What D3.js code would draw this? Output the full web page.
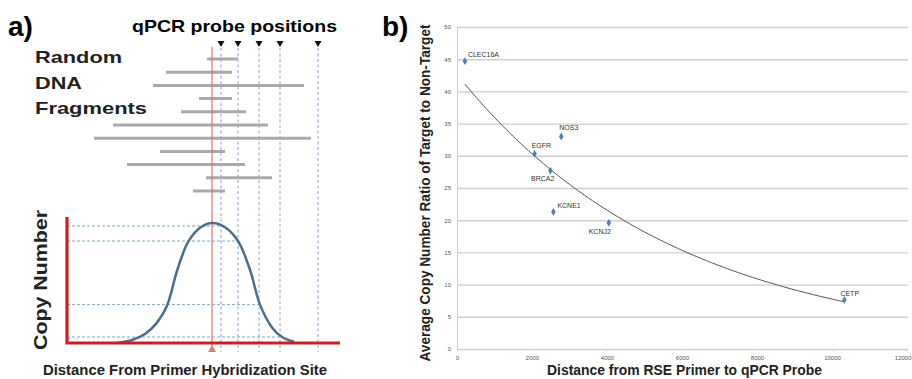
<!DOCTYPE html>
<html>
<head>
<meta charset="utf-8">
<script src="https://cdn.jsdelivr.net/npm/d3@7"></script>
<style>
  body { margin: 0; background: #fff; }
  svg { display: block; font-family: "Liberation Sans", Arial, Helvetica, sans-serif; }
</style>
</head>
<body>
<div id="chart"></div>
<script>
// ---- panel a: schematic (distance relative to primer site, copy number as fraction of peak)
const fragStart = [-5, -46, -59, -13, -31, -99, -118, -52, -85, -6, -19];
const fragEnd   = [26, 20, 92, 20, 34, 56, 99, 13, 33, 60, 13];
const probePos  = [9, 26, 47, 68, 106];
const probeLevel = [0.975, 0.85, 0.32, 0.05];
const curveDist = [-95, -80, -67, -55, -45, -35, -24, -12, 0, 13, 26, 38, 48, 60, 70, 82];
const curveCopy = [0, 0.025, 0.075, 0.17, 0.31, 0.6, 0.84, 0.96, 1, 0.965, 0.85, 0.61, 0.32, 0.13, 0.05, 0.01];
const fragLabels = ['Random', 'DNA', 'Fragments'];

// ---- panel b: measured ratios
const genes    = ['CLEC16A', 'NOS3', 'EGFR', 'BRCA2', 'KCNE1', 'KCNJ2', 'CETP'];
const distance = [210, 2780, 2070, 2490, 2570, 4050, 10330];
const ratio    = [44.7, 33.0, 30.3, 27.7, 21.3, 19.6, 7.6];
const yTicks = [0, 5, 10, 15, 20, 25, 30, 35, 40, 45, 50];
const xTicks = [0, 2000, 4000, 6000, 8000, 10000, 12000];

const width = 912, height = 379;
const svg = d3.select('#chart').append('svg')
    .attr('width', width)
    .attr('height', height);

svg.append('rect').attr('width', width).attr('height', height).attr('fill', '#fff');

// =================== panel a ===================
const xA = d3.scaleLinear().domain([-145, 128]).range([67, 340]);
const yA = d3.scaleLinear().domain([0, 1]).range([343, 223]);
const yFrag = d3.scalePoint().domain(d3.range(fragStart.length)).range([59, 191]);

const a = svg.append('g');

a.append('text').attr('x', 8).attr('y', 36)
    .attr('font-size', 28).attr('font-weight', 'bold').text('a)');

a.append('text').attr('x', 132).attr('y', 32)
    .attr('font-size', 17).attr('font-weight', 'bold')
    .attr('textLength', 205).attr('lengthAdjust', 'spacingAndGlyphs')
    .text('qPCR probe positions');

const labelY = [63, 89, 114], labelW = [87, 47, 112];
a.selectAll('.fraglabel')
    .data(fragLabels)
    .enter().append('text')
    .attr('class', 'fraglabel')
    .attr('x', 35)
    .attr('y', (d, i) => labelY[i])
    .attr('font-size', 16.5).attr('font-weight', 'bold').attr('fill', '#222')
    .attr('textLength', (d, i) => labelW[i]).attr('lengthAdjust', 'spacingAndGlyphs')
    .text(d => d);

// horizontal dashed levels from the axis to each probe
a.selectAll('.level')
    .data(probeLevel)
    .enter().append('line')
    .attr('class', 'level')
    .attr('x1', xA(-145)).attr('x2', (d, i) => xA(probePos[i]))
    .attr('y1', d => yA(d)).attr('y2', d => yA(d))
    .attr('stroke', '#7fa6c6').attr('stroke-width', 1)
    .attr('stroke-dasharray', '3,2');

// vertical probe lines
a.selectAll('.probe')
    .data(probePos)
    .enter().append('line')
    .attr('class', 'probe')
    .attr('x1', d => xA(d)).attr('x2', d => xA(d))
    .attr('y1', 48).attr('y2', 352)
    .attr('stroke', '#7fa6d0').attr('stroke-width', 1)
    .attr('stroke-dasharray', '3,2.5');

// probe triangles
a.selectAll('.ptri')
    .data(probePos)
    .enter().append('path')
    .attr('class', 'ptri')
    .attr('d', d => `M${xA(d) - 3.5},41 L${xA(d) + 3.5},41 L${xA(d)},47 Z`)
    .attr('fill', '#111');

// fragments
a.selectAll('.frag')
    .data(fragStart)
    .enter().append('line')
    .attr('class', 'frag')
    .attr('x1', d => xA(d)).attr('x2', (d, i) => xA(fragEnd[i]))
    .attr('y1', (d, i) => yFrag(i)).attr('y2', (d, i) => yFrag(i))
    .attr('stroke', '#a9a9a9').attr('stroke-width', 3);

// primer line
a.append('line')
    .attr('x1', xA(0)).attr('x2', xA(0))
    .attr('y1', 47).attr('y2', 346)
    .attr('stroke', '#e07070').attr('stroke-width', 1.2);
a.append('path')
    .attr('d', `M${xA(0) - 4},352 L${xA(0) + 4},352 L${xA(0)},345 Z`)
    .attr('fill', '#e07a7a');

// bell curve
const bell = d3.line()
    .x((d, i) => xA(curveDist[i]))
    .y(d => yA(d))
    .curve(d3.curveCatmullRom);
a.append('path')
    .attr('d', bell(curveCopy))
    .attr('fill', 'none')
    .attr('stroke', '#4d6d8e').attr('stroke-width', 2.5);

// red axes
a.append('path')
    .attr('d', `M${xA(-145)},217 L${xA(-145)},${yA(0)} L${xA(128)},${yA(0)}`)
    .attr('fill', 'none')
    .attr('stroke', '#cc2020').attr('stroke-width', 3.2);

a.append('text')
    .attr('transform', 'translate(47,280) rotate(-90)')
    .attr('text-anchor', 'middle')
    .attr('font-size', 19).attr('font-weight', 'bold').attr('fill', '#222')
    .attr('textLength', 140).attr('lengthAdjust', 'spacingAndGlyphs')
    .text('Copy Number');

a.append('text').attr('x', 43).attr('y', 375)
    .attr('font-size', 15.5).attr('font-weight', 'bold').attr('fill', '#222')
    .attr('textLength', 284).attr('lengthAdjust', 'spacingAndGlyphs')
    .text('Distance From Primer Hybridization Site');

// =================== panel b ===================
const xB = d3.scaleLinear().domain([0, 12000]).range([457, 907]);
const yB = d3.scaleLinear().domain([0, 50]).range([349, 27]);

const b = svg.append('g');

b.append('text').attr('x', 382).attr('y', 36)
    .attr('font-size', 28).attr('font-weight', 'bold').text('b)');

// gridlines + y axis
const yAxis = d3.axisLeft(yB).tickValues(yTicks).tickSize(-(xB(12000) - xB(0)) - 1).tickPadding(6);
const gy = b.append('g')
    .attr('transform', `translate(${xB(0)},0)`)
    .call(yAxis);
gy.select('.domain').attr('stroke', '#cfcfcf');
gy.selectAll('.tick line').attr('stroke', '#cfcfcf').attr('stroke-width', 1.4);
gy.selectAll('.tick text').attr('font-size', 6).attr('fill', '#555')
    .attr('font-family', '"Liberation Sans", Arial, sans-serif');

const xAxis = d3.axisBottom(xB).tickValues(xTicks).tickFormat(d3.format('d')).tickSize(2).tickPadding(5);
const gx = b.append('g')
    .attr('transform', `translate(0,${yB(0)})`)
    .call(xAxis);
gx.select('.domain').remove();
gx.selectAll('.tick line').attr('stroke', '#cfcfcf');
gx.selectAll('.tick text').attr('font-size', 6).attr('fill', '#555')
    .attr('font-family', '"Liberation Sans", Arial, sans-serif')
    .attr('text-anchor', d => d === 12000 ? 'end' : 'middle')
    .attr('dx', d => d === 12000 ? 4 : 0);

// exponential trendline fitted to the points
const lx = distance, ly = ratio.map(v => Math.log(v));
const mx = d3.mean(lx), my = d3.mean(ly);
const slope = d3.sum(lx, (v, i) => (v - mx) * (ly[i] - my)) / d3.sum(lx, v => (v - mx) * (v - mx));
const icpt = my - slope * mx;
const trendX = d3.range(d3.min(distance), d3.max(distance) + 1, 100);
const trend = d3.line()
    .x(d => xB(d))
    .y(d => yB(Math.exp(icpt + slope * d)));
b.append('path')
    .attr('d', trend(trendX))
    .attr('fill', 'none')
    .attr('stroke', '#555').attr('stroke-width', 1);

// points
b.selectAll('.pt')
    .data(genes)
    .enter().append('path')
    .attr('class', 'pt')
    .attr('transform', (d, i) => `translate(${xB(distance[i])},${yB(ratio[i])})`)
    .attr('d', d3.symbol(d3.symbolDiamond, 18))
    .attr('fill', '#4f7fbf');

const labelDx = [3, -2, -3, 4, 4, 2, -4];
const labelDy = [-4, -6, -6, 10, -4, 11, -4];
const labelAnchor = ['start', 'start', 'start', 'end', 'start', 'end', 'start'];
b.selectAll('.glabel')
    .data(genes)
    .enter().append('text')
    .attr('class', 'glabel')
    .attr('x', (d, i) => xB(distance[i]) + labelDx[i])
    .attr('y', (d, i) => yB(ratio[i]) + labelDy[i])
    .attr('text-anchor', (d, i) => labelAnchor[i])
    .attr('font-size', 7).attr('fill', '#333')
    .text(d => d);

b.append('text')
    .attr('transform', 'translate(430,193) rotate(-90)')
    .attr('text-anchor', 'middle')
    .attr('font-size', 14).attr('font-weight', 'bold').attr('fill', '#222')
    .attr('textLength', 337).attr('lengthAdjust', 'spacingAndGlyphs')
    .text('Average Copy Number Ratio of Target to Non-Target');

b.append('text').attr('x', 547).attr('y', 375)
    .attr('font-size', 14).attr('font-weight', 'bold').attr('fill', '#222')
    .attr('textLength', 275).attr('lengthAdjust', 'spacingAndGlyphs')
    .text('Distance from RSE Primer to qPCR Probe');
</script>
</body>
</html>
